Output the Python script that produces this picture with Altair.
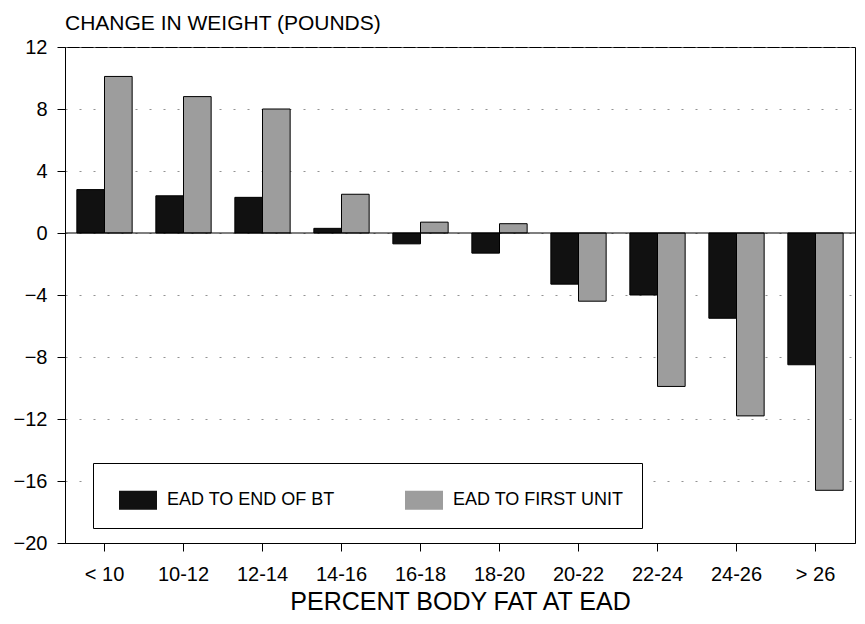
import altair as alt
import pandas as pd

categories = ["< 10", "10-12", "12-14", "14-16", "16-18", "18-20", "20-22", "22-24", "24-26", "> 26"]
series = ["EAD TO END OF BT", "EAD TO FIRST UNIT"]
end_of_bt = [2.8, 2.4, 2.3, 0.3, -0.7, -1.3, -3.3, -4.0, -5.5, -8.5]
first_unit = [10.1, 8.8, 8.0, 2.5, 0.7, 0.6, -4.4, -9.9, -11.8, -16.6]
y_ticks = [-20, -16, -12, -8, -4, 0, 4, 8, 12]

rows = []
for c, a, b in zip(categories, end_of_bt, first_unit):
    rows.append({"group": c, "series": series[0], "value": a})
    rows.append({"group": c, "series": series[1], "value": b})
df = pd.DataFrame(rows)

FONT = "Liberation Sans"

x = alt.X("group:N", sort=categories,
          scale=alt.Scale(paddingInner=0.3, paddingOuter=0.15),
          axis=alt.Axis(title="PERCENT BODY FAT AT EAD", labelAngle=0, labelFontSize=20,
                        titleFontSize=25, titleFontWeight="normal", titlePadding=5,
                        labelPadding=13, tickSize=8, domain=True, domainColor="black",
                        tickColor="black", labelColor="black", titleColor="black"))
y = alt.Y("value:Q", scale=alt.Scale(domain=[-20, 12], nice=False),
          axis=alt.Axis(title=None, values=y_ticks, labelFontSize=20, tickSize=8,
                        labelPadding=10, grid=True, gridDash=[2, 12], gridColor="#777",
                        gridOpacity=0.8, domainColor="black", tickColor="black",
                        labelColor="black"))

bars = alt.Chart(df).mark_bar(stroke="black", strokeWidth=1).encode(
    x=x,
    xOffset=alt.XOffset("series:N", sort=series),
    y=y,
    color=alt.Color("series:N", sort=series,
                    scale=alt.Scale(domain=series, range=["#111111", "#9d9d9d"]),
                    legend=alt.Legend(title=None, orient="none", legendX=28, legendY=416,
                                      direction="horizontal", strokeColor="black",
                                      padding=18, symbolType="M-1,-0.5H1V0.5H-1Z",
                                      symbolSize=1444, symbolStrokeWidth=0,
                                      symbolOffset=8, labelFontSize=18,
                                      labelColor="black", labelOffset=10,
                                      columnPadding=62, fillColor="white",
                                      labelLimit=400)),
)

zero = alt.Chart(pd.DataFrame({"v": [0]})).mark_rule(color="black", strokeWidth=1.2).encode(
    y=alt.Y("v:Q", scale=alt.Scale(domain=[-20, 12], nice=False))
)

chart = alt.layer(bars, zero).properties(
    width=790, height=496,
    title=alt.TitleParams("CHANGE IN WEIGHT (POUNDS)", anchor="start", frame="group",
                          fontSize=21, fontWeight="normal", offset=3, color="black"),
    autosize=alt.AutoSizeParams(type="none"),
    padding={"left": 57, "top": 39, "right": 2, "bottom": 73},
).configure(font=FONT).configure_view(stroke="black", strokeWidth=1)

chart.save("out.html", embed_options={"renderer": "svg", "actions": False})
